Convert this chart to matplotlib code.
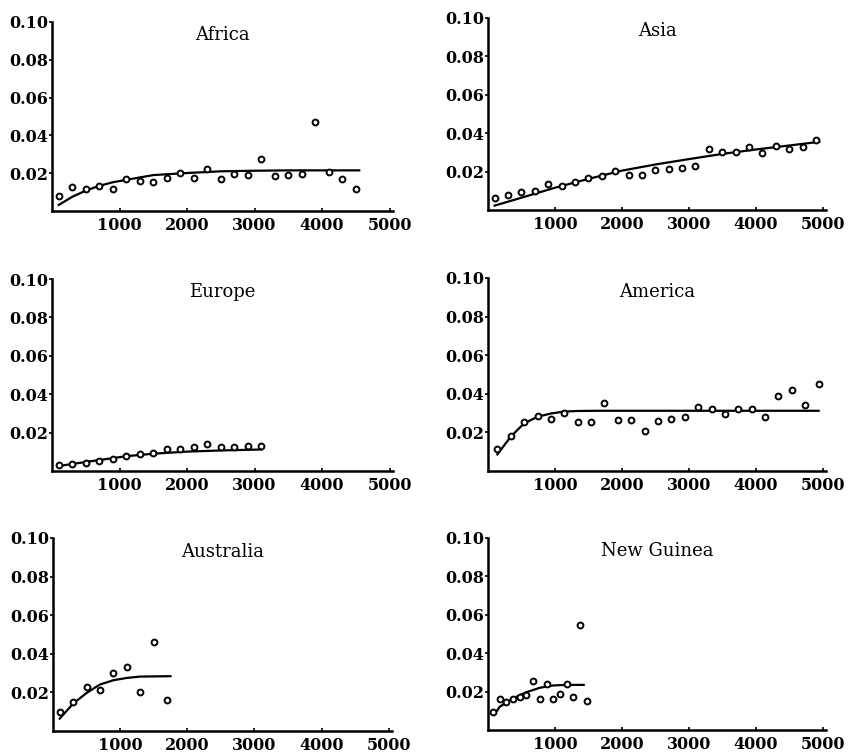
import numpy as np
import matplotlib
matplotlib.use("Agg")
import matplotlib.pyplot as plt

# --- DATA ---
africa_x = [100, 300, 500, 700, 900, 1100, 1300, 1500, 1700, 1900, 2100, 2300,
            2500, 2700, 2900, 3100, 3300, 3500, 3700, 3900, 4100, 4300, 4500]
africa_y = [0.0082, 0.0126, 0.0116, 0.0133, 0.0114, 0.0170, 0.0160, 0.0151,
            0.0177, 0.0200, 0.0177, 0.0223, 0.0170, 0.0195, 0.0188, 0.0277,
            0.0184, 0.0188, 0.0195, 0.0470, 0.0204, 0.0168, 0.0119]
africa_fit_x = [100, 300, 500, 700, 900, 1100, 1500, 2000, 2500, 3000, 3500, 4550]
africa_fit_y = [0.0032, 0.0075, 0.0108, 0.0133, 0.0152, 0.0165, 0.0190, 0.0201,
                0.0210, 0.0213, 0.0215, 0.0215]

asia_x = [100, 300, 500, 700, 900, 1100, 1300, 1500, 1700, 1900, 2100, 2300, 2500,
          2700, 2900, 3100, 3300, 3500, 3700, 3900, 4100, 4300, 4500, 4700, 4900]
asia_y = [0.0060, 0.0078, 0.0094, 0.0099, 0.0133, 0.0126, 0.0145, 0.0166, 0.0177,
          0.0203, 0.0182, 0.0182, 0.0208, 0.0211, 0.0220, 0.0230, 0.0320, 0.0303,
          0.0301, 0.0327, 0.0298, 0.0332, 0.0320, 0.0329, 0.0364]
asia_fit_x = [100, 500, 1000, 1500, 2000, 2500, 3000, 3500, 4000, 4500, 4950]
asia_fit_y = [0.0023, 0.0064, 0.0116, 0.0162, 0.0205, 0.0237, 0.0265, 0.0292,
              0.0315, 0.0336, 0.0355]

europe_x = [100, 300, 500, 700, 900, 1100, 1300, 1500, 1700, 1900, 2100, 2300,
            2500, 2700, 2900, 3100]
europe_y = [0.0031, 0.0038, 0.0043, 0.0053, 0.0064, 0.0079, 0.0086, 0.0093,
            0.0112, 0.0112, 0.0124, 0.0139, 0.0124, 0.0127, 0.0130, 0.0129]
europe_fit_x = [100, 500, 1100, 1500, 2000, 2500, 3100]
europe_fit_y = [0.0026, 0.0047, 0.0077, 0.0090, 0.0101, 0.0107, 0.0112]

america_x = [140, 340, 540, 740, 940, 1140, 1340, 1540, 1740, 1940, 2140, 2340,
             2540, 2740, 2940, 3140, 3340, 3540, 3740, 3940, 4140, 4340, 4540,
             4740, 4940]
america_y = [0.0112, 0.0183, 0.0255, 0.0283, 0.0269, 0.0303, 0.0255, 0.0253,
             0.0353, 0.0264, 0.0266, 0.0209, 0.0260, 0.0267, 0.0281, 0.0333,
             0.0322, 0.0295, 0.0321, 0.0322, 0.0278, 0.0388, 0.0421, 0.0340,
             0.0450]
america_fit_x = [140, 340, 540, 740, 940, 1140, 1340, 1640, 4940]
america_fit_y = [0.0086, 0.0178, 0.0247, 0.0281, 0.0298, 0.0308, 0.0311, 0.0312,
                 0.0312]

australia_x = [100, 300, 500, 700, 900, 1100, 1300, 1500, 1700]
australia_y = [0.0099, 0.0149, 0.0229, 0.0211, 0.0300, 0.0332, 0.0203, 0.0459,
               0.0163]
australia_fit_x = [100, 300, 500, 700, 900, 1100, 1300, 1750]
australia_fit_y = [0.0064, 0.0142, 0.0197, 0.0241, 0.0263, 0.0275, 0.0282, 0.0284]

guinea_x = [75, 175, 275, 375, 475, 575, 675, 775, 875, 975, 1075, 1175, 1275,
            1375, 1475]
guinea_y = [0.0095, 0.0159, 0.0144, 0.0161, 0.0170, 0.0182, 0.0255, 0.0163,
            0.0241, 0.0163, 0.0185, 0.0242, 0.0171, 0.0545, 0.0151]
guinea_fit_x = [100, 175, 375, 575, 775, 975, 1175, 1430]
guinea_fit_y = [0.0083, 0.0121, 0.0165, 0.0197, 0.0220, 0.0232, 0.0235, 0.0235]

panels = [
    ("Africa", africa_x, africa_y, africa_fit_x, africa_fit_y),
    ("Asia", asia_x, asia_y, asia_fit_x, asia_fit_y),
    ("Europe", europe_x, europe_y, europe_fit_x, europe_fit_y),
    ("America", america_x, america_y, america_fit_x, america_fit_y),
    ("Australia", australia_x, australia_y, australia_fit_x, australia_fit_y),
    ("New Guinea", guinea_x, guinea_y, guinea_fit_x, guinea_fit_y),
]

xticks = [1000, 2000, 3000, 4000, 5000]
yticks = [0.02, 0.04, 0.06, 0.08, 0.10]

# --- LAYOUT (pixel boxes: left, top, right, bottom) ---
W, H = 851, 753
boxes = [
    (52, 22, 393, 211),
    (488, 18, 826, 210),
    (52, 279, 393, 471),
    (488, 278, 826, 471),
    (53, 538, 392, 731),
    (488, 538, 826, 730),
]

plt.rcParams['font.family'] = ['DejaVu Serif']

fig = plt.figure(figsize=(W / 100, H / 100), dpi=100)

for (name, px, py, fx, fy), (l, t, r, b) in zip(panels, boxes):
    ax = fig.add_axes([l / W, 1 - b / H, (r - l) / W, (b - t) / H])
    ax.plot(fx, fy, color='black', lw=1.6, zorder=2)
    ax.plot(px, py, 'o', ms=4.2, mfc='white', mec='black', mew=1.4, zorder=3)
    ax.set_xlim(0, 5050)
    ax.set_ylim(0, 0.10)
    for s in ('top', 'right'):
        ax.spines[s].set_visible(False)
    for s in ('left', 'bottom'):
        ax.spines[s].set_linewidth(1.8)
    ax.set_xticks(xticks)
    ax.set_xticklabels([str(v) for v in xticks], fontweight='bold', fontsize=11.5)
    ax.set_yticks(yticks)
    ax.set_yticklabels(['%.2f' % v for v in yticks], fontweight='bold', fontsize=11.5)
    ax.tick_params(axis='x', direction='in', length=2, width=1.2, pad=4)
    ax.tick_params(axis='y', direction='out', length=2, width=1.2, pad=1)
    ax.text(0.5, 0.93, name, transform=ax.transAxes, ha='center', va='center',
            fontsize=13)

fig.savefig("out.png", dpi=100, facecolor='white')
